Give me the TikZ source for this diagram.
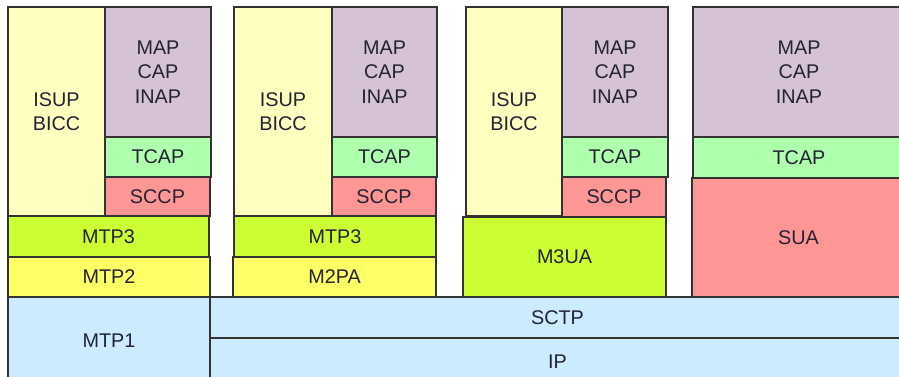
\documentclass[tikz,border=0pt]{standalone}
\usepackage{fontspec}
\setmainfont{Liberation Sans}
\definecolor{edge}{HTML}{333333}
\definecolor{txt}{HTML}{222233}
\definecolor{isupc}{HTML}{FFFFC0}
\definecolor{mapc}{HTML}{D6C2D6}
\definecolor{tcapc}{HTML}{AEFFAE}
\definecolor{sccpc}{HTML}{FF9696}
\definecolor{mtpthree}{HTML}{CCFF33}
\definecolor{mtptwo}{HTML}{FFFF66}
\definecolor{bluec}{HTML}{CCEBFF}
\newcommand\layer[7]{\node[blk, fill=#6, minimum width={#4-#2}, minimum height={#5-#3}] (#1) at ({(#2+#4)/2},{(#3+#5)/2}) {#7};}
\begin{document}
\begin{tikzpicture}[x=1pt,y=-1pt,
  blk/.style={draw=edge, line width=1.2pt, inner sep=0pt, align=center, text=txt,
    font=\fontsize{19.8}{24.5}\selectfont}]
\path[use as bounding box, clip] (0,0) rectangle (899,377);
\fill[white] (0,0) rectangle (899,377);
% bottom
\layer{mtp1}{8}{297}{210}{385}{bluec}{MTP1}
\layer{sctp}{210}{297}{905}{338}{bluec}{SCTP}
\layer{ip}{210}{338}{905}{385}{bluec}{IP}
% column 1
\layer{isup1}{8}{7}{105}{216}{isupc}{ISUP\\BICC}
\layer{map1}{105}{7}{211}{137}{mapc}{MAP\\CAP\\INAP}
\layer{tcap1}{105}{137}{211}{177}{tcapc}{TCAP}
\layer{sccp1}{105}{177}{210}{216}{sccpc}{SCCP}
\layer{mtp3a}{8}{216}{209}{257}{mtpthree}{MTP3}
\layer{mtp2}{8}{257}{210}{297}{mtptwo}{MTP2}
% column 2
\layer{isup2}{234}{7}{332}{216}{isupc}{ISUP\\BICC}
\layer{map2}{332}{7}{437}{137}{mapc}{MAP\\CAP\\INAP}
\layer{tcap2}{332}{137}{437}{177}{tcapc}{TCAP}
\layer{sccp2}{332}{177}{436}{216}{sccpc}{SCCP}
\layer{mtp3b}{234}{216}{436}{257}{mtpthree}{MTP3}
\layer{m2pa}{233}{257}{436}{297}{mtptwo}{M2PA}
% column 3
\layer{isup3}{466}{7}{562}{216}{isupc}{ISUP\\BICC}
\layer{map3}{562}{7}{668}{137}{mapc}{MAP\\CAP\\INAP}
\layer{tcap3}{562}{137}{668}{177}{tcapc}{TCAP}
\layer{sccp3}{562}{177}{666}{217}{sccpc}{SCCP}
\layer{m3ua}{463}{217}{666}{297}{mtpthree}{M3UA}
% column 4
\layer{map4}{693}{7}{905}{137}{mapc}{MAP\\CAP\\INAP}
\layer{tcap4}{693}{137}{905}{178}{tcapc}{TCAP}
\layer{sua}{692}{178}{905}{297}{sccpc}{SUA}
\end{tikzpicture}
\end{document}
